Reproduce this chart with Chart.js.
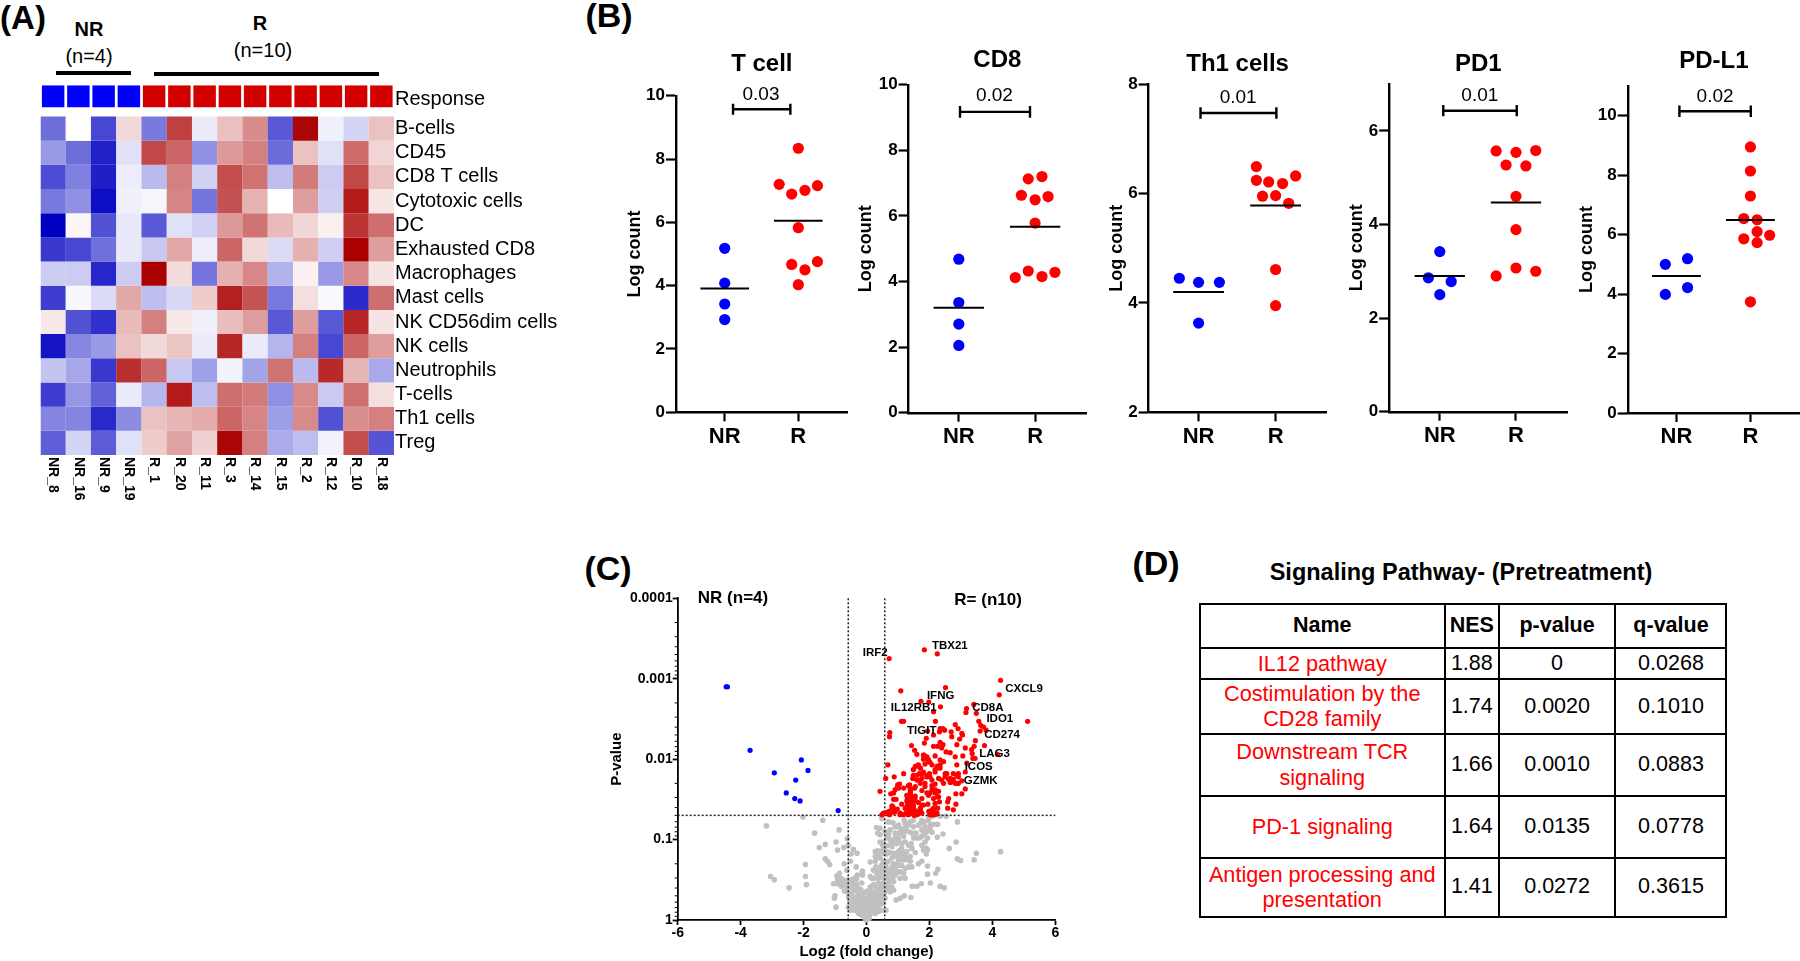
<!DOCTYPE html>
<html><head><meta charset="utf-8">
<script src="https://cdn.jsdelivr.net/npm/chart.js@4"></script>
<style>
html,body{margin:0;padding:0;background:#fff;}
body{width:1800px;height:961px;position:relative;overflow:hidden;font-family:"Liberation Sans",Arial,sans-serif;color:#000;}
canvas{position:absolute;display:block;}
.t{position:absolute;transform:translate(-50%,-50%);white-space:nowrap;}
.b{font-weight:bold;}
.bar{position:absolute;background:#000;}
table{position:absolute;left:1198.5px;top:603px;width:527px;border-collapse:collapse;table-layout:fixed;font-size:21.5px;}
td,th{border:2.2px solid #000;padding:0;text-align:center;vertical-align:middle;line-height:25.6px;}
td.n{color:#f00;font-size:21.7px;}
</style></head><body>
<div class="t b" style="left:23px;top:18px;font-size:33px">(A)</div>
<div class="t b" style="left:609px;top:15px;font-size:34px">(B)</div>
<div class="t b" style="left:608px;top:568px;font-size:34px">(C)</div>
<div class="t b" style="left:1156px;top:563px;font-size:34px">(D)</div>
<div class="t b" style="left:89px;top:29px;font-size:20px">NR</div>
<div class="t" style="left:89px;top:56px;font-size:20px">(n=4)</div>
<div class="t b" style="left:260px;top:23px;font-size:20px">R</div>
<div class="t" style="left:263px;top:50px;font-size:20px">(n=10)</div>
<div class="bar" style="left:55.6px;top:70.5px;width:75.4px;height:4.6px"></div>
<div class="bar" style="left:154px;top:71.8px;width:225px;height:4.6px"></div>

<canvas id="heat" style="left:40px;top:60px" width="560" height="465"></canvas>
<canvas id="b0"></canvas><canvas id="b1"></canvas><canvas id="b2"></canvas><canvas id="b3"></canvas><canvas id="b4"></canvas>
<canvas id="volcano"></canvas>

<div class="t b" style="left:1461px;top:572px;font-size:23.5px">Signaling Pathway- (Pretreatment)</div>
<table id="tbl"><colgroup><col style="width:245.5px"><col style="width:53.7px"><col style="width:116.8px"><col style="width:111px"></colgroup><tbody></tbody></table>

<script>
/* ---------- (A) heat map ---------- */
const sampleLabels=["NR_8","NR_16","NR_9","NR_19","R_1","R_20","R_11","R_3","R_14","R_15","R_2","R_12","R_10","R_18"];
const cellTypes=["B-cells","CD45","CD8 T cells","Cytotoxic cells","DC","Exhausted CD8","Macrophages","Mast cells","NK CD56dim cells","NK cells","Neutrophils","T-cells","Th1 cells","Treg"];
const responseGroups=["NR","NR","NR","NR","R","R","R","R","R","R","R","R","R","R"];
const rowBcells=[-.57,0,-.72,.15,-.52,.75,-.08,.25,.45,-.65,.98,-.06,-.17,.24];
const rowCD45=[-.4,-.57,-.87,-.12,.72,.6,-.43,.4,.5,-.58,.24,-.12,.58,.17];
const rowCD8=[-.7,-.5,-.88,-.07,-.27,.5,-.18,.7,.55,-.25,.52,-.2,.72,.24];
const rowCytotoxic=[-.53,-.43,-.95,-.06,-.04,.48,-.54,.68,.3,0,.38,-.19,.9,.1];
const rowDC=[-1,.04,-.68,-.09,-.65,-.12,-.18,.4,.55,.27,.16,.06,.8,.57];
const rowExhausted=[-.78,-.72,-.56,-.09,-.22,.34,-.07,.6,.15,-.14,.31,-.19,1,.38];
const rowMacrophages=[-.2,-.2,-.85,-.2,1,.14,-.54,.31,.47,-.3,.06,-.4,.47,.11];
const rowMast=[-.76,-.03,-.14,.34,-.25,-.15,.2,.88,.67,-.53,.13,-.02,-.83,.57];
const rowNKdim=[.09,-.68,-.81,.27,.5,.09,-.06,.26,.38,-.65,.38,-.65,.85,.11];
const rowNK=[-.92,-.47,-.4,.24,.15,.23,-.08,.85,-.08,-.29,.5,-.72,.6,.38];
const rowNeutrophils=[-.23,-.35,-.78,.82,.6,-.22,-.37,-.05,-.36,.55,-.27,.84,.29,-.34];
const rowTcells=[-.76,-.41,-.62,-.08,-.29,.9,-.26,.57,.52,-.44,.46,-.21,.56,.12];
const rowTh1=[-.48,-.48,-.84,-.45,.24,.29,.33,.6,.48,-.38,.46,-.68,.44,.5];
const rowTreg=[-.63,-.17,-.64,-.12,.2,.36,.18,.98,.5,-.33,-.26,-.05,.7,-.67];
const heatRows=[rowBcells,rowCD45,rowCD8,rowCytotoxic,rowDC,rowExhausted,rowMacrophages,rowMast,rowNKdim,rowNK,rowNeutrophils,rowTcells,rowTh1,rowTreg];

/* ---------- (B) dot plots: NR sits at x=1, R at x=2, offsets are the swarm spread ---------- */
const groupLabels=["NR","R"];
const tCellTicks=[0,2,4,6,8,10], cd8Ticks=[0,2,4,6,8,10], th1Ticks=[2,4,6,8], pd1Ticks=[0,2,4,6], pdl1Ticks=[0,2,4,6,8,10];
const tCellNrY=[5.18,4.08,3.42,2.93], tCellNrX=[1,1,1,1];
const tCellRY=[8.34,7.2,7.16,7.01,6.89,5.83,4.76,4.67,4.5,4.03], tCellRX=[2,1.74,2.26,2.09,1.91,2,2.26,1.91,2.09,2];
const cd8NrY=[4.68,3.36,2.7,2.05], cd8NrX=[1,1,1,1];
const cd8RY=[7.13,7.2,6.63,6.49,6.59,5.78,4.32,4.28,4.15,4.12], cd8RX=[1.91,2.09,1.82,2,2.17,2,1.91,2.26,2.09,1.74];
const th1NrY=[4.45,4.375,4.375,3.63], th1NrX=[.75,1,1.27,1];
const th1RY=[6.49,6.24,6.21,6.18,6.32,5.95,5.96,5.82,4.61,3.95], th1RX=[1.75,1.75,1.91,2.09,2.26,1.83,2,2.17,2,2];
const pd1NrY=[3.42,2.86,2.78,2.5], pd1NrX=[1,.85,1.15,1];
const pd1RY=[5.57,5.54,5.58,5.27,5.25,4.6,3.89,3.07,3,2.9], pd1RX=[1.74,2,2.26,1.87,2.13,2,2,2,2.26,1.74];
const pdl1NrY=[5,5.19,4.22,3.99], pdl1NrX=[.85,1.15,1.15,.85];
const pdl1RY=[8.95,8.14,7.3,6.54,6.5,6.1,5.98,5.86,5.73,3.74], pdl1RX=[2,2,2,1.91,2.09,2.09,2.26,1.91,2.09,2];
const panelTitles=["T cell","CD8","Th1 cells","PD1","PD-L1"];
const panelMeans=[[3.91,6.05],[3.2,5.67],[4.2,5.78],[2.9,4.47],[4.61,6.49]];
const panelPvalues=["0.03","0.02","0.01","0.01","0.02"];

/* ---------- (C) volcano: [log2 fold change, -log10 p] ---------- */
const geneNames=["TBX21","IRF2","CXCL9","IFNG","IL12RB1","CD8A","IDO1","TIGIT","CD274","LAG3","ICOS","GZMK"];
const geneFC=[2.08,-.12,4.41,1.92,.77,3.36,3.81,1.29,3.74,3.58,3.12,3.09];
const geneLogP=[3.41,3.32,2.88,2.79,2.64,2.64,2.5,2.35,2.3,2.07,1.9,1.73];
const volcanoDown=[[-4.46,2.9],[-4.42,2.9],[-3.7,2.11],[-2.07,1.99],[-1.86,1.86],[-2.93,1.83],[-2.25,1.74],[-2.55,1.58],[-2.28,1.51],[-2.11,1.48],[-.9,1.36]];
const volcanoUp=[[1.84,3.36],[2.25,3.31],[.72,3.25],[4.26,2.98],[4.22,2.8],[1.09,2.85],[2.51,2.89],[5.12,2.47],
[1.73,2.72],[1.98,2.71],[2.35,2.65],[2.13,2.59],[2.19,2.47],[1.18,2.47],[1.11,2.47],[.74,2.33],[.73,2.28],[3.41,2.68],[3.18,2.63],[3.16,2.58],[3.49,2.57],[3.57,2.47],[3.63,2.42],[3.72,2.4],[3.8,2.36],[3.61,2.35],[3.46,2.23],[3.42,2.16],[3.34,2.12],[3.36,2.07],[3.38,2.01],[3.45,2.01],[3.75,2.17],[4.16,2.06],
[2.82,2.43],[2.91,2.38],[2.69,2.34],[2.71,2.28],[3.03,2.32],[3.05,2.3],[2.96,2.25],[2.87,2.18],[3.14,2.14],[2.34,2.38],[2.43,2.38],[2.48,2.36],[2.32,2.34],[2.13,2.3],[1.94,2.35],[1.9,2.26],[1.84,2.2],[1.43,2.17],[1.53,2.11],[1.6,2.06],[2.13,2.16],[2.26,2.16],[2.34,2.21],[2.43,2.18],[2.39,2.14],[2.53,2.09],[2.66,2.08],[2.18,2.04],[2.82,2.03],[1.83,2.05],[1.92,2.03],[1.81,2],[1.97,1.99],[2.02,1.96],[1.86,1.94],[2.34,1.99],[3.06,2.04],[3.19,1.95],[2.87,1.93],[.68,1.93],[1.63,1.92],[1.71,1.89],[1.49,1.87],[1.18,1.82],[.88,1.78],[.61,1.76],[1.49,1.8],[1.68,1.82],[1.81,1.84],[2,1.82],[2.24,1.91],[2.32,1.89],[2.18,1.84],[2.55,1.82],[2.5,1.78],[2.76,1.82],[2.92,1.82],[3.14,1.84],[1.47,1.76],[1.6,1.74],[1.76,1.76],[1.92,1.78],[2.08,1.74],[2.29,1.76],[2.39,1.74],[2.61,1.75],[2.76,1.75],[2.92,1.78],[3.03,1.73],
[1.05,1.69],[.99,1.66],[1.33,1.67],[1.71,1.7],[1.86,1.7],[2.18,1.69],[2.08,1.67],[2.45,1.7],[2.66,1.71],[2.82,1.7],[2.92,1.7],[.43,1.6],[.91,1.62],[1.02,1.64],[1.39,1.62],[1.53,1.64],[2.18,1.62],[2.29,1.6],[1.92,1.58],[2.02,1.58],[1.76,1.61],[3.14,1.63],[2.84,1.57],[3.03,1.57],[.77,1.57],[.86,1.5],[.94,1.5],[1.37,1.55],[1.44,1.51],[1.49,1.47],[1.76,1.51],[2.13,1.51],[2.26,1.53],[2.32,1.47],[2.61,1.51],[2.58,1.47],[2.84,1.44],[.81,1.42],[.85,1.4],[1.3,1.43],[1.37,1.43],[1.49,1.41],[1.65,1.46],[1.81,1.43],[2.18,1.45],[2.26,1.39],[2.58,1.39],[2.76,1.37],[1.3,1.37],[1.41,1.38],[1.55,1.36],[1.71,1.39],[2.08,1.37],[.88,1.34],[.54,1.33],[.72,1.35],[1.26,1.33],[1.37,1.32],[1.49,1.32],[1.65,1.32],[2.13,1.35],[2.24,1.33],[.49,1.31],[.75,1.32],[1.07,1.31],[1.18,1.31],[1.33,1.31],[1.42,1.34],[1.52,1.3],[1.6,1.33],[2.02,1.31],[2.1,1.31],[2.18,1.31],[1.28,1.48],[1.43,1.44],[1.4,1.57],[1.3,1.52],[1.55,1.54],[1.95,1.44],[1.98,1.35],[.98,1.38],[1.12,1.44],
[1.39,1.58],[1.44,1.53],[1.39,1.47],[1.49,1.43],[1.33,1.41],[1.55,1.49],[1.41,1.62],[1.37,1.68],[1.55,1.66],[1.28,1.55],[1.23,1.39],[1.07,1.33],[.91,1.35],[.81,1.39],[.86,1.58],[.99,1.68],[1.18,1.64],[1.55,1.35],[1.71,1.37],[1.76,1.43],[2.02,1.35],[2.13,1.39],[1.97,1.55],[2.08,1.62],[2.18,1.58],[2.29,1.53],[1.86,1.66],[1.71,1.74],[1.6,1.8],[1.76,1.82],[1.92,1.8],[2.02,1.78],[2.18,1.87],[2.34,1.93],[2.5,1.82],[2.66,1.76],[2.71,1.72],[2.87,1.8],[2.87,1.7],[1.92,2.01],[1.97,1.97],[2.08,1.93],[1.81,2.05],[1.65,1.93],[1.71,1.89],[1.49,1.87],[1.55,1.91],[2.34,1.89],[2.45,1.97],[1.28,1.33],[1.44,1.33],[1.6,1.31],[1.76,1.33],[2.18,1.33],[2.08,1.31],[.65,1.34],[.73,1.31]];
const volcanoNS=[[-2.02,1.28],[-1.39,1.24],[-1.65,1.08],[-.87,1.12],[-1.5,.9],[-1.31,.94],[-.97,.97],[-.92,.87],[-.72,.9],[-.61,1.01],[-.58,.93],[-.42,.88],[-.49,.82],[-.3,.83],[-1.31,.76],[-1.24,.73],[-1.17,.69],[-1.94,.69],[-.71,.7],[-.51,.73],[-.33,.66],[-1.94,.54],[-1.91,.44],[-2.46,.4],[-3.18,1.17],[-3.05,.54],[-2.93,.5],[-.62,.62],[-.86,.58],[-.94,.55],[-.82,.52],[-.13,.61],[-.13,.56],[-1.05,.45],[-.92,.45],[-.84,.48],[-.73,.44],[-.62,.41],[-.52,.48],[-.41,.44],[-.29,.56],[-.31,.51],[-.15,.46],[-1,.3],[-1.02,.27],[-.97,.16],[-.62,.35],[-.57,.29],[-.47,.33],[-.36,.37],[-.25,.31],[-.52,.23],[-.41,.27],[-.31,.23],[-.2,.25],[-.57,.16],[-.5,.12],[-.36,.17],[-.2,.15],[-.1,.19],[-.36,.12],[-.04,.08],[-.12,.06],[.03,.04],[-.01,0],[.12,.54],[.12,.17],[.22,.17],[.17,.1],[.06,.12],[-.15,.1],[-.25,.08],
[.32,1.15],[.43,1.14],[.49,1.26],[.7,1.22],[.84,1.21],[1.02,1.18],[1.2,1.24],[1.33,1.18],[1.49,1.24],[1.65,1.18],[1.76,1.24],[1.97,1.29],[2.08,1.29],[2.34,1.29],[2.53,1.29],[2.89,1.22],[2.13,1.19],[2.26,1.19],[1.86,1.16],[2.02,1.14],[2.08,1.09],[1.92,1.1],[1.76,1.12],[1.49,1.16],[1.57,1.08],[1.23,1.14],[1.18,1.1],[1.05,1.08],[.91,1.08],[.7,1.06],[1.12,1.06],[2.43,1.07],[2.25,1.03],[2.85,.97],[2.63,.89],[3.49,.83],[4.26,.85],[3.42,.75],[2.89,.76],[2.99,.74],[1.94,1.02],[1.86,.97],[1.76,.93],[1.9,.89],[1.81,.87],[1.94,.87],[1.9,.82],[1.94,.67],[1.94,.57],[2.27,.63],[2.2,.58],[2.03,.46],[1.74,.45],[1.6,.42],[1.45,.42],[2.34,.42],[2.47,.4],[1.41,.28],[1.2,.3],[1.07,.27],[.94,.25],[.86,.37],[.75,.35],[.65,.37],[.59,.27],[.54,.12],[.62,.12],[.43,.97],[.28,.85],[.36,.86],[.54,.83],[.59,.91],[.7,.93],[.86,.99],[.96,.95],[1.12,.95],[1.23,.97],[1.42,.95],[1.55,.84],[1.44,.89],[1.28,.85],[1.12,.89],[1.02,.85],[.86,.83],[.81,.77],[.96,.79],[1.12,.81],[1.23,.79],[1.39,.79],[1.76,.73],[1.65,.7],[1.28,.75],[1.44,.66],[1.23,.64],[1.12,.68],[.96,.7],[.81,.66],[.7,.73],[.54,.73],[.43,.77],[.28,.79],[.12,.72],[.28,.73],[-.13,.6],[.33,.58],[.24,.52],[.17,.52],[.43,.54],[.59,.56],[.75,.54],[.91,.56],[1.07,.52],[1.23,.52],[.86,.48],[.7,.46],[.54,.46],[.38,.46],[.22,.44],[.12,.41],[.17,.35],[.33,.35],[.49,.37],[.43,.29],[.28,.27],[.12,.27],[.54,.21],[.38,.23],[.22,.19],[.06,.17],[-.1,.19],[.33,.15],[.17,.1],[.01,.08],[-.04,.02],[.43,.19],[.56,.33],
[.92,.62],[1,.6],[.84,.58],[.68,.62],[.52,.64],[.38,.62],[.3,.66],[.46,.42],[.62,.43],[.8,.41],[.24,.31],[.35,.3],[.5,.26],[.08,.33],[.02,.36],[-.08,.34],[-.18,.38],[-.05,.27],[.03,.22],[.14,.24],[.28,.12],[.4,.11],[.08,.02],[.05,.05],[.11,.08],[1.02,.74],[1.16,.75],[1.34,.93],[1.5,1.02],[1.68,1.02],[.98,1.02],[.8,.94],[.64,.82],[.74,.84],[.52,.93],[.48,.68],[.62,.68],[.72,.6],
[.86,.7],[.81,.6],[.91,.66],[.75,.5],[.84,.54],[.65,.52],[.54,.39],[.67,.41],[.81,.39],[.49,.33],[.38,.39],[.28,.41],[.17,.29],[.06,.25],[-.04,.21],[-.15,.19],[-.2,.25],[-.31,.29],[-.39,.27],[-.47,.33],[-.36,.37],[-.25,.39],[-.31,.44],[-.41,.48],[-.52,.41],[-.49,.17],[-.36,.12],[-.25,.1],[-.15,.06],[-.04,.12],[.12,.12],[.28,.08],[.43,.12],[.06,.04],[-.1,.1],[-.31,.21],[.96,.83],[1.07,.87],[1.18,.83],[1.07,.77],[1.02,.68],[.91,.6],[1.07,.6],[1.18,.58],[1.33,.66],[1.39,.73],[.75,1],[.91,1.02],[1.02,1],[1.18,1.04],[.81,.91],[.65,.85],[.54,.89],[.43,.85],[.38,.79],[.49,.68],[.59,.64],[.65,.58],[.49,.6],[.33,.64],[.22,.62],[.38,.52],[.54,.52],[1.76,1.04],[1.86,1.08],[1.6,1.02],[1.44,1.08],[1.33,1.1],[1.71,1.2],[1.83,1.22],[1.97,1.24],[2.02,1.18],[1.39,1.22],[1.23,1.2],[1.07,1.14],[.91,1.16],[.75,1.12],[.59,1.1],[.65,1.02],[.54,.97],[.43,1.06],[.36,1.08],
[-.75,.5],[-.68,.46],[-.58,.5],[-.46,.5],[-.38,.52],[-.7,.36],[-.8,.42],[-.92,.5],[-.55,.4],[-.44,.4],[-.3,.36],[-.16,.34],[-.12,.28],[-.28,.17],[-.42,.2],[-.47,.24],[-.14,.16],[-.07,.24],[.01,.14],[-.02,.06],[.02,.1],[-.08,.13],[.1,.06],[.15,.15],[.27,.2],[.35,.22],[.04,.28],[.02,.18]];

/* ---------- (D) pathway table ---------- */
const pathwayNames=["IL12 pathway","Costimulation by the<br>CD28 family","Downstream TCR<br>signaling","PD-1 signaling","Antigen processing and<br>presentation"];
const pathwayNES=["1.88","1.74","1.66","1.64","1.41"];
const pathwayP=["0","0.0020","0.0010","0.0135","0.0272"];
const pathwayQ=["0.0268","0.1010","0.0883","0.0778","0.3615"];
const tableHeader=["Name","NES","p-value","q-value"];

/* ---------- drawing ---------- */
const FONT='"Liberation Sans", Arial, sans-serif';
Chart.defaults.font.family=FONT;
Chart.defaults.color='#000';
Chart.defaults.animation=false;
Chart.defaults.responsive=false;

function heatColor(v){
  const a=Math.abs(v);
  const t=v<0?[0,0,192]:[170,0,0];
  return `rgb(${t.map(c=>Math.round(255+(c-255)*a)).join(',')})`;
}
(function(){
  const AREA={l:40.5,r:394,t:85.3,b:455}, rowH=(455-116.5)/14, minY=-(116.5-85.3)/rowH;
  const left=40, top=60, cv=document.getElementById('heat');
  const sets=heatRows.map((row,r)=>({label:cellTypes[r],data:row.map(()=>[r,r+1]),backgroundColor:row.map(heatColor),
    grouped:false,barPercentage:1.004,categoryPercentage:1,borderWidth:0}));
  sets.push({label:"Response",data:responseGroups.map(()=>[minY,-.38]),backgroundColor:responseGroups.map(g=>g==="NR"?'#0000ff':'#d40000'),
    grouped:false,barPercentage:.89,categoryPercentage:1,borderWidth:0});
  const labelAt=[-.7].concat(cellTypes.map((_,i)=>i+.5));
  const labelText=["Response"].concat(cellTypes);
  new Chart(cv,{type:'bar',data:{labels:sampleLabels,datasets:sets},options:{
    devicePixelRatio:1,layout:{padding:{top:AREA.t-top,left:AREA.l-left}},
    plugins:{legend:{display:false},tooltip:{enabled:false}},
    scales:{
      x:{position:'bottom',grid:{display:false,drawTicks:false},border:{display:false},
        ticks:{autoSkip:false,minRotation:-90,maxRotation:-90,padding:2,font:{size:14,weight:'bold'},color:'#000'},
        afterFit(s){s.height=cv.height-(AREA.b-top);s._getXAxisLabelAlignment=()=>'left';}},
      y:{position:'right',reverse:true,min:minY,max:14,grid:{display:false,drawTicks:false},border:{display:false},
        afterBuildTicks(s){s.ticks=labelAt.map(v=>({value:v}));},
        ticks:{autoSkip:false,padding:1,font:{size:20},color:'#000',callback:(v)=>labelText[labelAt.indexOf(v)]},
        afterFit(s){s.width=cv.width-(AREA.r-left);}}
    }}});
})();

const panelDefs=[
 {id:'b0',l:676,r:847.7,t:95.7,b:412.3,titleY:64,yTitleX:634.6,yMin:0,yMax:10,xMin:.338,xMax:2.671,ticks:tCellTicks,nrX:tCellNrX,nrY:tCellNrY,rX:tCellRX,rY:tCellRY,brX:[1.113,1.892],brY:9.57,cap:.174,pX:1.493,pY:10.02},
 {id:'b1',l:908.6,r:1086,t:84.7,b:412.7,titleY:60,yTitleX:865.5,yMin:0,yMax:10,xMin:.342,xMax:2.667,ticks:cd8Ticks,nrX:cd8NrX,nrY:cd8NrY,rX:cd8RX,rY:cd8RY,brX:[1.016,1.933],brY:9.17,cap:.18,pX:1.467,pY:9.66},
 {id:'b2',l:1148.6,r:1326.6,t:84,b:412.3,titleY:64,yTitleX:1117,yMin:2,yMax:8,xMin:.351,xMax:2.662,ticks:th1Ticks,nrX:th1NrX,nrY:th1NrY,rX:th1RX,rY:th1RY,brX:[1.025,2.01],brY:7.47,cap:.105,pX:1.514,pY:7.75},
 {id:'b3',l:1389.2,r:1567.4,t:84,b:411.7,titleY:64,yTitleX:1357,yMin:0,yMax:7,xMin:.336,xMax:2.675,ticks:pd1Ticks,nrX:pd1NrX,nrY:pd1NrY,rX:pd1RX,rY:pd1RY,brX:[1.046,2.01],brY:6.43,cap:.12,pX:1.526,pY:6.75},
 {id:'b4',l:1627.7,r:1800,t:86,b:413,titleY:61,yTitleX:1587,yMin:0,yMax:11,xMin:.341,xMax:2.67,ticks:pdl1Ticks,nrX:pdl1NrX,nrY:pdl1NrY,rX:pdl1RX,rY:pdl1RY,brX:[1.04,2.005],brY:10.15,cap:.19,pX:1.522,pY:10.64}
];
panelDefs.forEach((p,i)=>{
  const cv=document.getElementById(p.id);
  const TITLE=24, LH=TITLE*1.2, YT=18;
  const cLeft=Math.round(p.yTitleX-YT*1.2/2), cTop=Math.round(p.titleY-LH/2), cBottom=Math.round(p.b+44), cRight=Math.ceil(p.r)+14;
  cv.width=cRight-cLeft; cv.height=cBottom-cTop; cv.style.left=cLeft+'px'; cv.style.top=cTop+'px';
  const mean=panelMeans[i], half=.33;
  const bx=p.brX, by=p.brY, c=p.cap;
  const pText=panelPvalues[i];
  new Chart(cv,{type:'scatter',data:{datasets:[
    {label:'NR mean',data:[{x:1-half,y:mean[0]},{x:1+half,y:mean[0]}],showLine:true,borderColor:'#000',borderWidth:2,pointRadius:0,clip:false},
    {label:'R mean',data:[{x:2-half,y:mean[1]},{x:2+half,y:mean[1]}],showLine:true,borderColor:'#000',borderWidth:2,pointRadius:0,clip:false},
    {label:'bracket',data:[{x:bx[0],y:by-c},{x:bx[0],y:by+c},{x:bx[0],y:by},{x:bx[1],y:by},{x:bx[1],y:by+c},{x:bx[1],y:by-c}],showLine:true,borderColor:'#000',borderWidth:2.4,pointRadius:0,clip:false},
    {label:'NR',data:p.nrY.map((y,k)=>({x:p.nrX[k],y})),backgroundColor:'#0000ff',borderWidth:0,pointRadius:5.6,clip:false},
    {label:'R',data:p.rY.map((y,k)=>({x:p.rX[k],y})),backgroundColor:'#ff0000',borderWidth:0,pointRadius:5.6,clip:false}
  ]},options:{devicePixelRatio:1,layout:{padding:{right:cRight-p.r}},
    plugins:{legend:{display:false},tooltip:{enabled:false},
      title:{display:true,text:panelTitles[i],fullSize:false,color:'#000',font:{size:TITLE,weight:'bold',lineHeight:1.2},padding:{top:0,bottom:p.t-cTop-LH}}},
    scales:{
      x:{type:'linear',min:p.xMin,max:p.xMax,position:'bottom',
        grid:{drawOnChartArea:false,drawTicks:true,tickLength:9,tickColor:'#000',tickWidth:2.2,color:'#000'},
        border:{color:'#000',width:2.4},
        afterBuildTicks(s){s.ticks=[{value:1},{value:2}];},
        ticks:{padding:2,autoSkip:false,maxRotation:0,font:{size:22,weight:'bold'},color:'#000',callback:v=>groupLabels[v-1]},
        afterFit(s){s.height=cBottom-p.b;}},
      y:{type:'linear',min:p.yMin,max:p.yMax,position:'left',
        grid:{drawOnChartArea:false,drawTicks:true,tickLength:10,tickColor:'#000',tickWidth:2.2,color:'#000'},
        border:{color:'#000',width:2.4},
        afterBuildTicks(s){s.ticks=p.ticks.map(v=>({value:v}));},
        ticks:{padding:1,font:{size:17,weight:'bold'},color:'#000'},
        title:{display:true,text:'Log count',color:'#000',padding:0,font:{size:YT,weight:'bold',lineHeight:1.2}},
        afterFit(s){s.width=p.l-cLeft;}}
    }},
    plugins:[{id:'pval'+i,afterDatasetsDraw(ch){
      const ctx=ch.ctx;ctx.save();ctx.font='19px '+FONT;ctx.fillStyle='#000';ctx.textAlign='center';ctx.textBaseline='middle';
      ctx.fillText(pText,ch.scales.x.getPixelForValue(p.pX),ch.scales.y.getPixelForValue(p.pY));ctx.restore();}}]
  });
});

(function(){
  const A={l:677.7,r:1055.3,t:598.3,b:920};
  const cLeft=608,cTop=578,cRight=1072,cBottom=961;
  const cv=document.getElementById('volcano');
  cv.width=cRight-cLeft;cv.height=cBottom-cTop;cv.style.left=cLeft+'px';cv.style.top=cTop+'px';
  const pt=a=>({x:a[0],y:Math.pow(10,-a[1])});
  const cut=.05, fcCut=.58;
  const dotted={showLine:true,borderColor:'#222',borderWidth:1.5,borderDash:[2,2],pointRadius:0,clip:false};
  const majors=[.0001,.001,.01,.1,1], xTicks=[-6,-4,-2,0,2,4,6];
  new Chart(cv,{type:'scatter',data:{datasets:[
    {label:'Up in R',data:volcanoUp.map(pt),backgroundColor:'#ff0000',borderWidth:0,pointRadius:2.6,clip:false},
    {label:'Up in NR',data:volcanoDown.map(pt),backgroundColor:'#0000ff',borderWidth:0,pointRadius:2.6,clip:false},
    Object.assign({label:'p cut'},dotted,{data:[{x:-6,y:cut},{x:6,y:cut}]}),
    Object.assign({label:'fc low'},dotted,{data:[{x:-fcCut,y:.0001},{x:-fcCut,y:1}]}),
    Object.assign({label:'fc high'},dotted,{data:[{x:fcCut,y:.0001},{x:fcCut,y:1}]}),
    {label:'Not significant',data:volcanoNS.map(pt),backgroundColor:'#c0c0c0',borderWidth:0,pointRadius:2.8,clip:false}
  ]},options:{devicePixelRatio:1,layout:{padding:{top:A.t-cTop,right:cRight-A.r}},
    plugins:{legend:{display:false},tooltip:{enabled:false}},
    scales:{
      x:{type:'linear',min:-6,max:6,position:'bottom',
        grid:{drawOnChartArea:false,drawTicks:true,tickLength:5,tickColor:'#000',tickWidth:1.8,color:'#000'},
        border:{color:'#000',width:1.8},
        afterBuildTicks(s){s.ticks=xTicks.map(v=>({value:v}));},
        ticks:{padding:0,autoSkip:false,maxRotation:0,font:{size:14,weight:'bold'},color:'#000'},
        title:{display:true,text:'Log2 (fold change)',color:'#000',padding:0,font:{size:15,weight:'bold',lineHeight:1.2}},
        afterFit(s){s.height=cBottom-A.b;}},
      y:{type:'logarithmic',min:.0001,max:1,reverse:true,position:'left',
        grid:{drawOnChartArea:false,drawTicks:true,tickLength:5,tickColor:'#000',tickWidth:1.8,color:'#000'},
        border:{color:'#000',width:1.8},
        afterBuildTicks(s){s.ticks=majors.map(v=>({value:v,major:true}));},
        ticks:{padding:0,autoSkip:false,font:{size:14,weight:'bold'},color:'#000',callback:v=>String(v)},
        title:{display:true,text:'P-value',color:'#000',padding:0,font:{size:15,weight:'bold',lineHeight:1.2}},
        afterFit(s){s.width=A.l-cLeft;}}
    }},
    plugins:[{id:'volcText',afterDatasetsDraw(ch){
      const ctx=ch.ctx,X=ch.scales.x,Y=ch.scales.y;ctx.save();
      ctx.strokeStyle='#000';ctx.lineWidth=1;
      for(let k=-4;k<0;k++)for(let m=2;m<10;m++){const py=Y.getPixelForValue(m*Math.pow(10,k));
        ctx.beginPath();ctx.moveTo(X.left-3,py);ctx.lineTo(X.left,py);ctx.stroke();}
      ctx.fillStyle='#000';ctx.textAlign='left';ctx.textBaseline='middle';
      ctx.font='bold 11.5px '+FONT;
      geneNames.forEach((g,i)=>ctx.fillText(g,X.getPixelForValue(geneFC[i]),Y.getPixelForValue(Math.pow(10,-geneLogP[i]))));
      ctx.font='bold 17px '+FONT;
      ctx.fillText('NR (n=4)',X.getPixelForValue(-5.36),Y.getPixelForValue(.0001));
      ctx.fillText('R= (n10)',X.getPixelForValue(2.79),Y.getPixelForValue(Math.pow(10,-3.98)));
      ctx.restore();}}]
  });
})();

(function(){
  const heights=[44,31,54.7,62.3,61.7,59];
  const tb=document.querySelector('#tbl tbody');
  let html='<tr style="height:'+heights[0]+'px">'+tableHeader.map(h=>'<th>'+h+'</th>').join('')+'</tr>';
  pathwayNames.forEach((n,i)=>{html+='<tr style="height:'+heights[i+1]+'px"><td class="n">'+n+'</td><td>'+pathwayNES[i]+'</td><td>'+pathwayP[i]+'</td><td>'+pathwayQ[i]+'</td></tr>';});
  tb.innerHTML=html;
})();
</script>
</body></html>
